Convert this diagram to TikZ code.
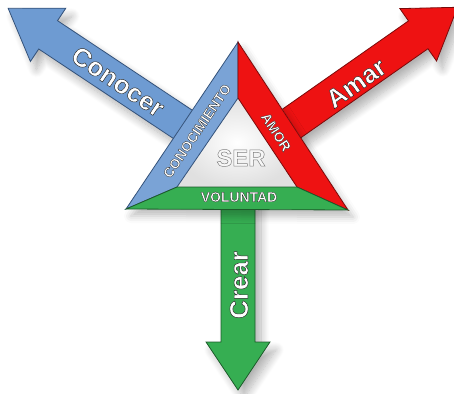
\documentclass[tikz,border=0pt]{standalone}
\usepackage{fontspec}
\setmainfont{Liberation Sans}
\usepackage{tikz}
\usetikzlibrary{shadows.blur}
\usepackage{xcolor}
\definecolor{serblue}{HTML}{6E9BD2}
\definecolor{serbluedark}{HTML}{34527A}
\definecolor{serred}{HTML}{EE1212}
\definecolor{serreddark}{HTML}{7A0A0A}
\definecolor{sergreen}{HTML}{36AE52}
\definecolor{sergreendark}{HTML}{1C5A2A}
% outlined text: fill, then stroke in grey #3 (rgb)
\newcommand{\serout}[3]{\special{pdf:literal direct #1 w #3 RG 2 Tr}#2%
  \special{pdf:literal direct 0 Tr}}

\begin{document}
\begin{tikzpicture}[x=1bp,y=1bp,
  serarrow/.style={line width=0.8bp,line join=miter,
    blur shadow={shadow xshift=6bp,shadow yshift=-8bp,
      shadow blur radius=8bp,shadow blur steps=12,shadow opacity=30}},
  serband/.style={line width=0.8bp,line join=miter},
  arrowlabel/.style={font=\fontsize{26}{26}\selectfont\bfseries,
    text=white,inner sep=0pt},
  bandlabel/.style={font=\fontsize{14}{14}\selectfont\bfseries,
    text=white,inner sep=0pt}
]
  \useasboundingbox (0,0) rectangle (454,393);
  \coordinate (centro) at (238,232);

  % three arrows, drawn behind the triangle
  \begin{scope}[shift={(centro)},rotate=146.4]
    \filldraw[serarrow,fill=serblue,draw=serbluedark]
      (0,-17) -- (228,-17) -- (228,-32) -- (276,0)
      -- (228,32) -- (228,17) -- (0,17) -- cycle;
  \end{scope}
  \begin{scope}[shift={(centro)},rotate=35]
    \filldraw[serarrow,fill=serred,draw=serreddark]
      (0,-17) -- (220,-17) -- (220,-32) -- (268,0)
      -- (220,32) -- (220,17) -- (0,17) -- cycle;
  \end{scope}
  \begin{scope}[shift={(centro)},rotate=-90]
    \filldraw[serarrow,fill=sergreen,draw=sergreendark]
      (0,-17) -- (181,-17) -- (181,-32) -- (229,0)
      -- (181,32) -- (181,17) -- (0,17) -- cycle;
  \end{scope}

  \node[arrowlabel,rotate=-33.6] (conocer) at (118,311.5)
    {\serout{0.45}{Conocer}{0.15 0.15 0.15}};
  \node[arrowlabel,rotate=35] (amar) at (356,310)
    {\serout{0.45}{Amar}{0.15 0.15 0.15}};
  \node[arrowlabel,rotate=90] (crear) at (239,108)
    {\serout{0.45}{Crear}{0.15 0.15 0.15}};

  % triangle
  \coordinate (apex) at (238,351);
  \coordinate (izq) at (126,184);
  \coordinate (der) at (348,183);
  \coordinate (iapex) at (238,295);
  \coordinate (iizq) at (177,206);
  \coordinate (ider) at (297,206);

  \fill[white,blur shadow={shadow xshift=5bp,shadow yshift=-7bp,
      shadow blur radius=7bp,shadow opacity=25}]
    (apex) -- (izq) -- (der) -- cycle;
  \shade[inner color=white,outer color=black!12]
    (iapex) -- (iizq) -- (ider) -- cycle;
  \filldraw[serband,fill=serblue!92!white,draw=serbluedark]
    (apex) -- (izq) -- (iizq) -- (iapex) -- cycle;
  \filldraw[serband,fill=serred,draw=serreddark]
    (apex) -- (iapex) -- (ider) -- (der) -- cycle;
  \filldraw[serband,fill=sergreen,draw=sergreendark]
    (izq) -- (der) -- (ider) -- (iizq) -- cycle;

  \node[bandlabel,rotate=56] (conocimiento) at (197,262)
    {\serout{0.3}{CONOCIMIENTO}{0.15 0.15 0.15}};
  \node[bandlabel,rotate=-57] (amor) at (276,261)
    {\serout{0.3}{AMOR}{0.15 0.15 0.15}};
  \node[bandlabel] (voluntad) at (239,196)
    {\serout{0.3}{VOLUNTAD}{0.15 0.15 0.15}};
  \node[font=\fontsize{24}{24}\selectfont\bfseries,text=black!3,
    inner sep=0pt] (ser) at (241,235)
    {\serout{0.5}{SER}{0.5 0.5 0.5}};
\end{tikzpicture}
\end{document}
